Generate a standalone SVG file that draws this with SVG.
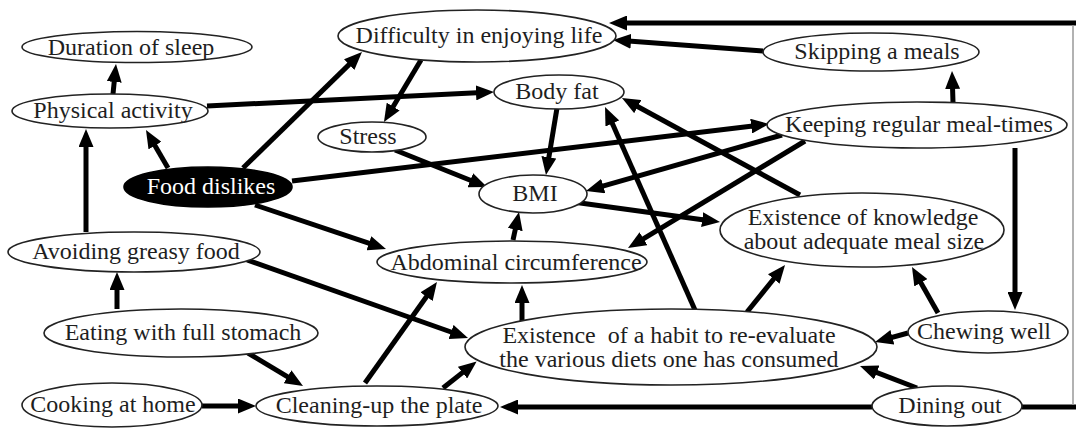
<svg xmlns="http://www.w3.org/2000/svg" width="1076" height="428" viewBox="0 0 1076 428">
<style>
.n ellipse{fill:#fff;stroke:#222;stroke-width:1.6}
.n text{font-family:"Liberation Serif","Times New Roman",serif;font-size:24px;fill:#1e1e1e;text-anchor:middle}
#food_dislikes ellipse{fill:#000;stroke:#000}
#food_dislikes text{fill:#fff}
.e path{fill:none;stroke:#000;stroke-width:5;marker-end:url(#ah)}
.e path.plain{marker-end:none}
.e path.thin{stroke:#999;stroke-width:1.5;marker-end:none}
</style>
<defs>
<marker id="ah" markerUnits="userSpaceOnUse" markerWidth="18" markerHeight="15" refX="6" refY="7.5" orient="auto">
<path d="M0,0 L18,7.5 L0,15 z" fill="#000"/>
</marker>
</defs>
<rect width="1076" height="428" fill="#fff"/>
<g id="connectors" class="e">
<path d="M113,94 L114.8,76"/>
<path d="M168,168 L152,140.4"/>
<path d="M86,232 L86,141"/>
<path d="M117,309 L117,284"/>
<path d="M248,353 L292.7,379.8"/>
<path d="M202,406 L244,406"/>
<path d="M243,168 L353.4,60.4"/>
<path d="M207,106 L482,92.6"/>
<path d="M421,60 L390.1,111.7"/>
<path d="M292,181 L757.1,125.4"/>
<path d="M255,205 L374.6,245.2"/>
<path d="M395,150 L475.9,182.5"/>
<path d="M557,108 L547.9,163.2"/>
<path d="M782,135 L597.5,187.7"/>
<path d="M805,141 L638.3,241.8"/>
<path d="M953,102 L952.4,83"/>
<path d="M1015,148 L1015,298"/>
<path d="M763,51 L625,40.8"/>
<path d="M1076,23 L621,23"/>
<path class="plain" d="M1022,407 L1076,407"/>
<path class="thin" d="M1073,25 L1073,405"/>
<path d="M573,202 L708.1,220.4"/>
<path d="M800,195 L632.5,103.7"/>
<path d="M695,310 L609.9,118"/>
<path d="M513,240 L516.5,223.7"/>
<path d="M522,322 L522,297"/>
<path d="M747,312 L777.5,274.3"/>
<path d="M938,313 L917.9,277.5"/>
<path d="M908,333 L886.6,338.8"/>
<path d="M917,388 L871.2,370.3"/>
<path d="M872,407 L512,407"/>
<path d="M247,260 L456.7,334"/>
<path d="M365,383 L430,291.8"/>
<path d="M443,388 L467.2,368.9"/>
</g>
<g id="duration_of_sleep" class="n"><ellipse cx="137" cy="47" rx="115" ry="15.5"/><text x="131" y="55">Duration of sleep</text></g>
<g id="physical_activity" class="n"><ellipse cx="110" cy="111" rx="98" ry="17"/><text x="113" y="118">Physical activity</text></g>
<g id="food_dislikes" class="n"><ellipse cx="208" cy="187" rx="84" ry="20"/><text x="211" y="194">Food dislikes</text></g>
<g id="difficulty" class="n"><ellipse cx="477" cy="36" rx="139" ry="26"/><text x="479" y="43">Difficulty in enjoying life</text></g>
<g id="body_fat" class="n"><ellipse cx="559" cy="92" rx="65" ry="17"/><text x="557" y="99">Body fat</text></g>
<g id="stress" class="n"><ellipse cx="372" cy="137" rx="54" ry="15"/><text x="368" y="144">Stress</text></g>
<g id="bmi" class="n"><ellipse cx="533" cy="194" rx="54" ry="19"/><text x="535" y="201">BMI</text></g>
<g id="skipping" class="n"><ellipse cx="871" cy="52" rx="108" ry="19"/><text x="877" y="59">Skipping a meals</text></g>
<g id="keeping" class="n"><ellipse cx="917" cy="125" rx="150" ry="23"/><text x="919" y="132">Keeping regular meal-times</text></g>
<g id="knowledge" class="n"><ellipse cx="862" cy="230" rx="142" ry="37"/><text x="863" y="225">Existence of knowledge</text><text x="864" y="249">about adequate meal size</text></g>
<g id="avoiding" class="n"><ellipse cx="134" cy="252" rx="126" ry="20"/><text x="136" y="259">Avoiding greasy food</text></g>
<g id="abdominal" class="n"><ellipse cx="512" cy="262" rx="135" ry="21"/><text x="516" y="270">Abdominal circumference</text></g>
<g id="eating" class="n"><ellipse cx="181" cy="333" rx="137" ry="24"/><text x="183" y="340">Eating with full stomach</text></g>
<g id="habit" class="n"><ellipse cx="671" cy="347" rx="206" ry="38"/><text x="669" y="343" xml:space="preserve">Existence  of a habit to re-evaluate</text><text x="669" y="367">the various diets one has consumed</text></g>
<g id="chewing" class="n"><ellipse cx="988" cy="332" rx="80" ry="21"/><text x="984" y="339">Chewing well</text></g>
<g id="cooking" class="n"><ellipse cx="112" cy="405" rx="90" ry="22"/><text x="113" y="412">Cooking at home</text></g>
<g id="cleaning" class="n"><ellipse cx="377" cy="406" rx="121" ry="20"/><text x="379" y="413">Cleaning-up the plate</text></g>
<g id="dining" class="n"><ellipse cx="947" cy="406" rx="75" ry="20"/><text x="950" y="413">Dining out</text></g>
</svg>
